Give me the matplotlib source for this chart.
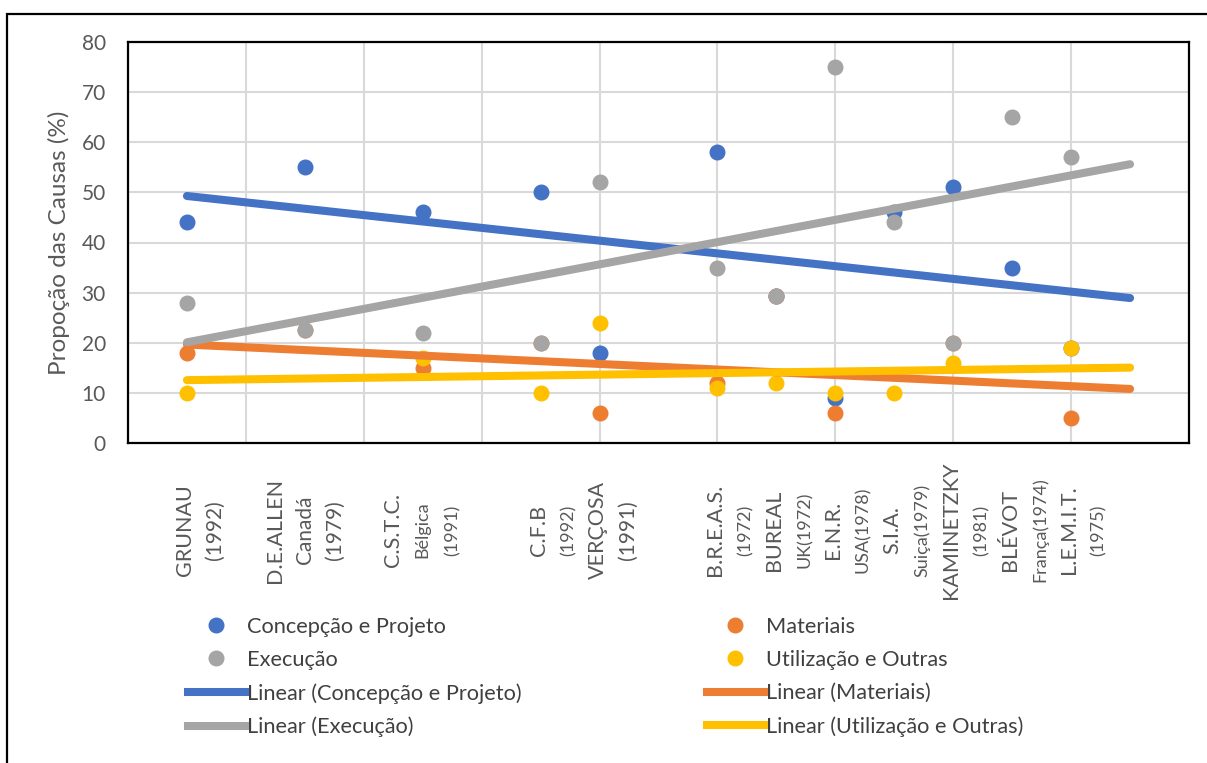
import numpy as np
import matplotlib
matplotlib.use('Agg')
import matplotlib.pyplot as plt
from matplotlib.lines import Line2D
from matplotlib.patches import Rectangle

plt.rcParams['font.family'] = ['Lato', 'DejaVu Sans']

# posições (x) de cada fonte / autor
x_pos = [1, 3, 5, 7, 8, 10, 11, 12, 13, 14, 15, 16]
nomes = ['GRUNAU', 'D.E.ALLEN', 'C.S.T.C.', 'C.F.B', 'VERÇOSA', 'B.R.E.A.S.',
         'BUREAL', 'E.N.R.', 'S.I.A.', 'KAMINETZKY', 'BLÉVOT', 'L.E.M.I.T.']
subs = [['(1992)'], ['Canadá', '(1979)'], ['Bélgica', '(1991)'], ['(1992)'], ['(1991)'],
        ['(1972)'], ['UK(1972)'], ['USA(1978)'], ['Suiça(1979)'], ['(1981)'],
        ['França(1974)'], ['(1975)']]
subs_grande = [True, True, False, False, True, False, False, False, False, False, False, False]

nan = np.nan
concepcao = [44, 55, 46, 50, 18, 58, 29.3, 9, 46, 51, 35, 19]
materiais = [18, 22.5, 15, 20, 6, 12, 29.3, 6, nan, 20, nan, 5]
execucao = [28, 22.5, 22, 20, 52, 35, 29.3, 75, 44, 20, 65, 57]
utilizacao = [10, nan, 17, 10, 24, 11, 12, 10, 10, 16, nan, 19]

series = [
    ('Concepção e Projeto', concepcao, '#4472C4'),
    ('Materiais', materiais, '#ED7D31'),
    ('Execução', execucao, '#A5A5A5'),
    ('Utilização e Outras', utilizacao, '#FFC000'),
]

fig = plt.figure(figsize=(12.07, 7.63), dpi=100)
ax = fig.add_axes([128 / 1207, 320 / 763, 1061 / 1207, 401 / 763])

x = np.array(x_pos, dtype=float)
for nome, vals, cor in series:
    ax.plot(x, vals, 'o', color=cor, markersize=10.5, zorder=3)

# linhas de tendência (linear)
for nome, vals, cor in series:
    y = np.array(vals, dtype=float)
    ok = ~np.isnan(y)
    a, b = np.polyfit(x[ok], y[ok], 1)
    xt = np.array([1, 17])
    ax.plot(xt, a * xt + b, color=cor, lw=5.8, solid_capstyle='round', zorder=4)

ax.set_xlim(0, 18)
ax.set_ylim(0, 80)
ax.set_yticks(range(0, 81, 10))
ax.set_xticks(range(0, 19, 2))
ax.set_xticklabels([])
ax.tick_params(length=0, labelsize=15, labelcolor='#595959', pad=16)
ax.grid(True, color='#D9D9D9', lw=1.5)
ax.set_axisbelow(True)
for s in ax.spines.values():
    s.set_color('black')
    s.set_linewidth(1.6)
ax.set_ylabel('Propoção das Causas (%)', fontsize=17.5, color='#595959', labelpad=8)

# rótulos das categorias (texto girado)
for xi, nome, sb, grande in zip(x_pos, nomes, subs, subs_grande):
    linhas = [nome] + sb
    n = len(linhas)
    shift = 13 if n == 2 else 0
    for i, t in enumerate(linhas):
        off = ((i - (n - 1) / 2) * 30 + shift) * 0.72
        fs = 15.5 if i == 0 else (15 if grande else 13)
        ax.annotate(t, xy=(xi, -0.217), xycoords=('data', 'axes fraction'),
                    xytext=(off, 0), textcoords='offset points', rotation=90,
                    ha='center', va='center', fontsize=fs, color='#595959')

# legenda
h = {}
for nome, vals, cor in series:
    h[nome] = Line2D([], [], marker='o', ls='none', color=cor, markersize=10.5)
    h['Linear (' + nome + ')'] = Line2D([], [], color=cor, lw=5.8)
ordem = ['Concepção e Projeto', 'Execução', 'Linear (Concepção e Projeto)', 'Linear (Execução)',
         'Materiais', 'Utilização e Outras', 'Linear (Materiais)', 'Linear (Utilização e Outras)']
leg = fig.legend([h[k] for k in ordem], ordem, ncol=2, loc='upper left',
                 bbox_to_anchor=(188 / 1207, 1 - 617 / 763), frameon=False,
                 fontsize=15.7, handlelength=2.6, handletextpad=0.1,
                 columnspacing=8.5, labelspacing=0.6, borderpad=0, borderaxespad=0)
for t in leg.get_texts():
    t.set_color('#404040')

fig.add_artist(Rectangle((7 / 1207, -0.05), 1.1, 1.05 - 14 / 763, transform=fig.transFigure,
                         fill=False, edgecolor='black', lw=1.6))

fig.savefig('out.png', dpi=100)
